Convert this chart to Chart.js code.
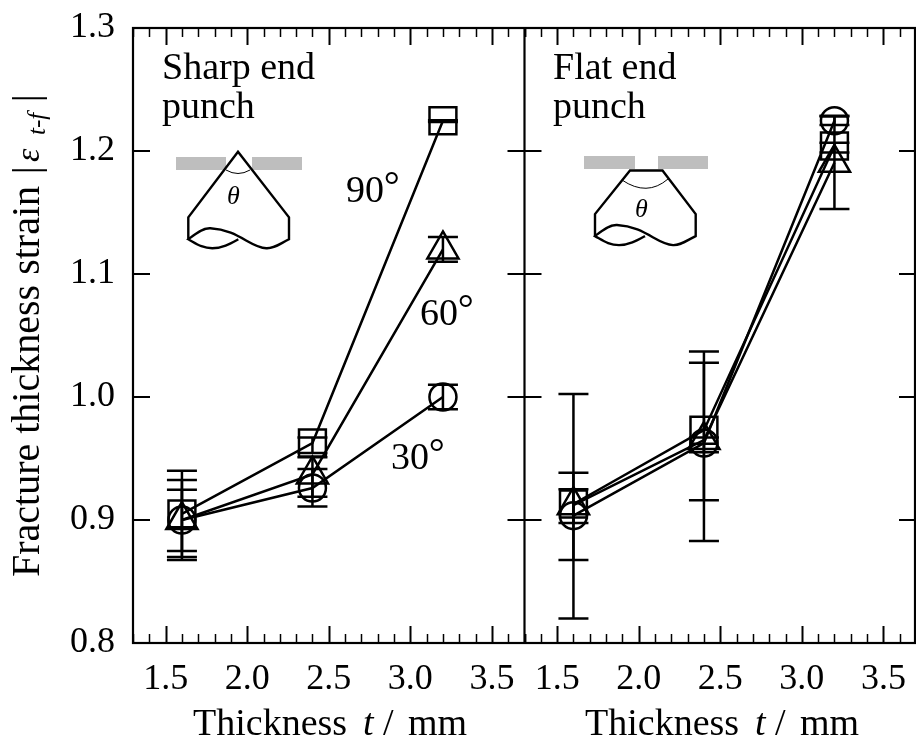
<!DOCTYPE html>
<html>
<head>
<meta charset="utf-8">
<style>
html, body { margin: 0; padding: 0; background: #fff; }
#wrap { position: relative; width: 916px; height: 738px; overflow: hidden; }
canvas { display: block; }
</style>
<script src="https://cdn.jsdelivr.net/npm/chart.js@4/dist/chart.umd.min.js"></script>
</head>
<body>
<div id="wrap"><canvas id="chart" width="916" height="738"></canvas></div>
<script>
const thickness = [1.6, 2.4, 3.2];
const xTicks = [1.3, 1.4, 1.5, 1.6, 1.7, 1.8, 1.9, 2.0, 2.1, 2.2, 2.3, 2.4, 2.5, 2.6, 2.7, 2.8, 2.9, 3.0, 3.1, 3.2, 3.3, 3.4, 3.5, 3.6, 3.7];
const xLabels = [1.5, 2.0, 2.5, 3.0, 3.5];
const yTicks = [0.8, 0.9, 1.0, 1.1, 1.2, 1.3];

// sharp end punch
const sharp30 = [0.900, 0.926, 1.000];
const sharp30Hi = [0.9245, 0.9415, 1.010];
const sharp30Lo = [0.8748, 0.911, 0.990];
const sharp60 = [0.900, 0.937, 1.120];
const sharp60Hi = [0.9325, 0.951, 1.130];
const sharp60Lo = [0.8675, 0.919, 1.110];
const sharp90 = [0.905, 0.9626, 1.2246];
const sharp90Hi = [0.940, 0.967, 1.2250];
const sharp90Lo = [0.870, 0.9545, 1.2235];

// flat end punch
const flat30 = [0.9035, 0.9626, 1.2246];
const flat30Hi = [0.9385, 1.0369, 1.2211];
const flat30Lo = [0.8675, 0.883, 1.228];
const flat60 = [0.912, 0.965, 1.1904];
const flat60Hi = [0.925, 0.967, 1.2287];
const flat60Lo = [0.8975, 0.955, 1.1528];
const flat90 = [0.913, 0.973, 1.2041];
const flat90Hi = [1.0025, 1.0279, 1.2067];
const flat90Lo = [0.820, 0.916, 1.1987];

const SERIF = '"Liberation Serif", "Times New Roman", serif';

function seriesSet(xAxisID, values, hi, lo, pointStyle, pointRadius) {
    const whiskers = [];
    thickness.forEach((t, i) => {
        whiskers.push({ x: t, y: lo[i] }, { x: t, y: hi[i] }, { x: t, y: null });
    });
    return [{
        xAxisID: xAxisID,
        data: thickness.map((t, i) => ({ x: t, y: values[i] })),
        borderColor: '#000',
        borderWidth: 2.5,
        pointStyle: pointStyle,
        pointRadius: pointRadius,
        pointBorderColor: '#000',
        pointBorderWidth: 2.5,
        pointBackgroundColor: 'rgba(0,0,0,0)',
        showLine: true,
        tension: 0
    }, {
        xAxisID: xAxisID,
        data: whiskers,
        borderColor: '#000',
        borderWidth: 2.5,
        pointStyle: 'line',
        pointRadius: 15,
        pointBorderColor: '#000',
        pointBorderWidth: 2.5,
        showLine: true,
        spanGaps: false
    }];
}

function noPadding(scale) {
    scale.paddingLeft = 0;
    scale.paddingRight = 0;
    scale.paddingTop = 0;
    scale.paddingBottom = 0;
}

function xAxis() {
    return {
        type: 'linear',
        position: 'bottom',
        stack: 'panels',
        stackWeight: 1,
        min: 1.3,
        max: 3.7,
        grid: { display: false, drawTicks: false },
        border: { display: false },
        afterBuildTicks: scale => { scale.ticks = xTicks.map(v => ({ value: v })); },
        afterFit: scale => { scale.height = 95; noPadding(scale); },
        ticks: {
            autoSkip: false,
            maxRotation: 0,
            padding: 15,
            color: '#000',
            font: { family: SERIF, size: 36 },
            callback: v => xLabels.some(l => Math.abs(l - v) < 1e-6) ? v.toFixed(1) : ''
        }
    };
}

// text runs: [string, font, dx, dy]
function runs(ctx, x, y, list) {
    list.forEach(r => {
        ctx.font = r[1];
        ctx.fillText(r[0], x + r[2], y + (r[3] || 0));
    });
}

function punch(ctx, ox, oy, flat) {
    ctx.strokeStyle = '#000';
    ctx.lineWidth = 2.4;
    ctx.lineJoin = 'miter';
    ctx.beginPath();
    ctx.moveTo(0 + ox, 87.6 + oy);
    ctx.lineTo(0 + ox, 65.6 + oy);
    if (flat) {
        ctx.lineTo(35 + ox, 22 + oy);
        ctx.lineTo(67.5 + ox, 22 + oy);
    } else {
        ctx.lineTo(49.7 + ox, 0 + oy);
    }
    ctx.lineTo(100.7 + ox, 65.6 + oy);
    ctx.lineTo(100.7 + ox, 87.6 + oy);
    ctx.bezierCurveTo(90 + ox, 93 + oy, 85 + ox, 97 + oy, 78 + ox, 96.6 + oy);
    ctx.bezierCurveTo(62 + ox, 96 + oy, 50 + ox, 78 + oy, 22 + ox, 76.5 + oy);
    ctx.bezierCurveTo(14 + ox, 76 + oy, 6 + ox, 83 + oy, 0 + ox, 87.6 + oy);
    ctx.bezierCurveTo(8 + ox, 92 + oy, 14 + ox, 96.6 + oy, 24 + ox, 96.6 + oy);
    ctx.bezierCurveTo(34 + ox, 96.6 + oy, 42 + ox, 92 + oy, 50 + ox, 87.6 + oy);
    ctx.stroke();
}

const framePlugin = {
    id: 'frame',
    afterDraw(chart) {
        const ctx = chart.ctx;
        const a = chart.chartArea;
        const mid = chart.scales.xFlat.left;
        ctx.save();
        ctx.strokeStyle = '#000';

        // inward ticks on every side of both panels
        [chart.scales.xSharp, chart.scales.xFlat].forEach(s => {
            s.ticks.forEach(t => {
                const major = xLabels.some(l => Math.abs(l - t.value) < 1e-6);
                const len = major ? 17 : 9;
                const px = Math.round(s.getPixelForValue(t.value)) + 0.5;
                ctx.lineWidth = major ? 2 : 1.5;
                ctx.beginPath();
                ctx.moveTo(px, a.top); ctx.lineTo(px, a.top + len);
                ctx.moveTo(px, a.bottom); ctx.lineTo(px, a.bottom - len);
                ctx.stroke();
            });
        });
        const yScale = chart.scales.y;
        ctx.lineWidth = 2;
        yTicks.slice(1, -1).forEach(v => {
            const py = yScale.getPixelForValue(v);
            [[a.left, 17], [mid, -17], [mid, 17], [a.right, -17]].forEach(e => {
                ctx.beginPath();
                ctx.moveTo(e[0], py); ctx.lineTo(e[0] + e[1], py);
                ctx.stroke();
            });
        });

        ctx.lineWidth = 2.2;
        ctx.strokeRect(a.left, a.top, a.right - 1 - a.left, a.bottom - a.top);
        ctx.beginPath();
        ctx.moveTo(mid, a.top); ctx.lineTo(mid, a.bottom);
        ctx.stroke();

        // punch sketches
        ctx.fillStyle = '#bebebe';
        ctx.fillRect(176, 157, 50, 13);
        ctx.fillRect(252, 157, 50, 13);
        ctx.fillRect(584, 156, 51, 13);
        ctx.fillRect(658, 156, 50, 13);
        punch(ctx, 188.3, 151.7, false);
        punch(ctx, 595, 148.5, true);
        ctx.lineWidth = 1;
        ctx.beginPath();
        ctx.moveTo(226, 170); ctx.quadraticCurveTo(238, 177, 250, 170);
        ctx.moveTo(622, 180); ctx.quadraticCurveTo(647, 197, 668, 179);
        ctx.stroke();

        // text
        ctx.fillStyle = '#000';
        ctx.textBaseline = 'alphabetic';
        ctx.textAlign = 'left';
        const big = '38px ' + SERIF;
        const ital = 'italic 38px ' + SERIF;
        const ring = '40px ' + SERIF;
        ctx.font = big;
        ctx.fillText('Sharp end', 162, 79);
        ctx.fillText('punch', 162, 118);
        ctx.fillText('Flat end', 553, 79);
        ctx.fillText('punch', 553, 118);
        ctx.font = 'italic 26px ' + SERIF;
        ctx.fillText('θ', 227, 204);
        ctx.fillText('θ', 635, 217);

        runs(ctx, 346, 202, [['90', big, 0], ['°', ring, 37.7, -3.5]]);
        runs(ctx, 420, 325, [['60', big, 0], ['°', ring, 37.7, -3.5]]);
        runs(ctx, 391, 469, [['30', big, 0], ['°', ring, 37.7, -3.5]]);

        [193, 585].forEach(x => {
            runs(ctx, x, 735, [['Thickness', big, 0], ['t', ital, 170], ['/', big, 190], ['mm', big, 215]]);
        });

        ctx.translate(39, 577);
        ctx.rotate(-Math.PI / 2);
        runs(ctx, 0, 0, [
            ['Fracture thickness strain', '40px ' + SERIF, 0],
            ['|', big, 403],
            ['ε', 'italic 34px ' + SERIF, 415],
            ['t-f', 'italic 25px ' + SERIF, 442, 6],
            ['|', big, 475]
        ]);
        ctx.restore();
    }
};

new Chart(document.getElementById('chart'), {
    type: 'scatter',
    data: {
        datasets: [
            ...seriesSet('xSharp', sharp30, sharp30Hi, sharp30Lo, 'circle', 13.5),
            ...seriesSet('xSharp', sharp60, sharp60Hi, sharp60Lo, 'triangle', 18),
            ...seriesSet('xSharp', sharp90, sharp90Hi, sharp90Lo, 'rect', 19),
            ...seriesSet('xFlat', flat30, flat30Hi, flat30Lo, 'circle', 13.5),
            ...seriesSet('xFlat', flat60, flat60Hi, flat60Lo, 'triangle', 18),
            ...seriesSet('xFlat', flat90, flat90Hi, flat90Lo, 'rect', 19)
        ]
    },
    options: {
        responsive: false,
        animation: false,
        events: [],
        layout: { autoPadding: false, padding: { top: 28, right: 0, bottom: 0, left: 0 } },
        plugins: { legend: { display: false }, tooltip: { enabled: false } },
        scales: {
            xSharp: xAxis(),
            xFlat: xAxis(),
            y: {
                type: 'linear',
                position: 'left',
                min: 0.8,
                max: 1.3,
                grid: { display: false, drawTicks: false },
                border: { display: false },
                afterBuildTicks: scale => { scale.ticks = yTicks.map(v => ({ value: v })); },
                afterFit: scale => { scale.width = 133; noPadding(scale); },
                ticks: {
                    padding: 18,
                    color: '#000',
                    font: { family: SERIF, size: 36 },
                    callback: v => v.toFixed(1)
                }
            }
        }
    },
    plugins: [framePlugin]
});
</script>
</body>
</html>
